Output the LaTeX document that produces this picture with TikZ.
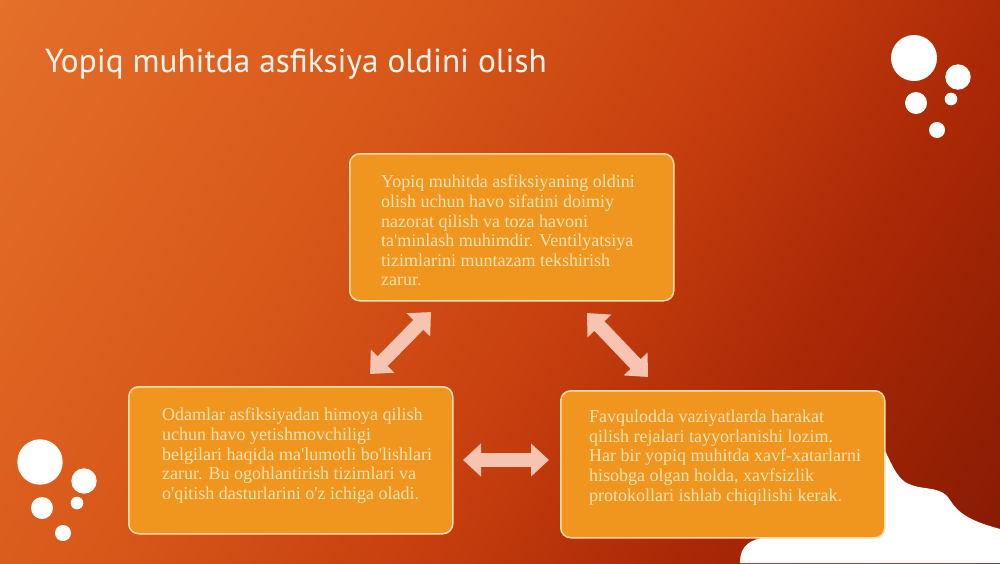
\documentclass[tikz,border=0pt]{standalone}
\usepackage{fontspec}
\setmainfont{Liberation Serif}
\newfontfamily\titlefont{PT Sans}
\usetikzlibrary{arrows.meta}
\definecolor{bgA}{RGB}{236,128,52}
\definecolor{bgB}{RGB}{216,88,26}
\definecolor{bgC}{RGB}{198,62,14}
\definecolor{bgD}{RGB}{170,40,6}
\definecolor{bgE}{RGB}{100,14,0}
\definecolor{boxfill}{RGB}{240,150,30}
\definecolor{boxline}{RGB}{250,222,175}
\definecolor{txt}{RGB}{251,228,184}
\definecolor{arrowc}{RGB}{246,196,176}
\definecolor{titlec}{RGB}{252,244,236}
\pgfdeclarehorizontalshading{bgshade}{100bp}{color(0bp)=(bgA); color(38bp)=(bgB); color(55bp)=(bgC); color(68bp)=(bgD); color(100bp)=(bgE)}
\newcommand{\ap}{\textquotesingle}
\begin{document}
\begin{tikzpicture}[x=1pt,y=-1pt,
  box/.style={draw=boxline, line width=1.5pt, fill=boxfill, rounded corners=10pt,
    minimum width=324pt, minimum height=147pt, anchor=north west, inner sep=0pt},
  boxtext/.style={text=txt, font=\fontsize{18}{19.6}\selectfont, align=left,
    anchor=north west, inner sep=0pt},
  dbl/.style={draw=arrowc, line width=14pt,
    {Triangle[length=18pt,width=32pt]}-{Triangle[length=18pt,width=32pt]}},
  dot/.style={fill=white, draw=none}
]
\useasboundingbox (0,0) rectangle (1000,563);
\shade[shading=bgshade, shading angle=-32] (0,0) rectangle (1000,563);
% white blob bottom right
\fill[white] (740,563) .. controls (740,545) and (750,538) .. (775,536) -- (870,440)
  .. controls (884,432) and (888,470) .. (905,482)
  .. controls (922,492) and (940,484) .. (950,500)
  .. controls (960,516) and (975,522) .. (1000,529) -- (1000,563) -- cycle;
% circles top right
\fill[dot] (914,58) circle (23);
\fill[dot] (958,77) circle (12.7);
\fill[dot] (916,103) circle (11);
\fill[dot] (951,99) circle (6.3);
\fill[dot] (937,130) circle (8);
% circles bottom left
\fill[dot] (40,462) circle (22.7);
\fill[dot] (84,481) circle (12.7);
\fill[dot] (42,508) circle (11);
\fill[dot] (77,503) circle (6.3);
\fill[dot] (63,533) circle (8);
% title
\node[anchor=base west, inner sep=0pt, text=titlec, font=\titlefont\fontsize{33.3}{38}\selectfont] (title) at (45,72) {Yopiq muhitda asfiksiya oldini olish};
% boxes
\node[box] (top) at (349,153) {};
\node[box] (left) at (128,386) {};
\node[box] (right) at (560,390) {};
\node[boxtext] (toptxt) at (381,175) {Yopiq muhitda asfiksiyaning oldini\\olish uchun havo sifatini doimiy\\nazorat qilish va toza havoni\\ta\ap minlash muhimdir. Ventilyatsiya\\tizimlarini muntazam tekshirish\\zarur.};
\node[boxtext] (lefttxt) at (162,408) {Odamlar asfiksiyadan himoya qilish\\uchun havo yetishmovchiligi\\belgilari haqida ma\ap lumotli bo\ap lishlari\\zarur. Bu ogohlantirish tizimlari va\\o\ap qitish dasturlarini o\ap z ichiga oladi.};
\node[boxtext] (righttxt) at (589,410) {Favqulodda vaziyatlarda harakat\\qilish rejalari tayyorlanishi lozim.\\Har bir yopiq muhitda xavf-xatarlarni\\hisobga olgan holda, xavfsizlik\\protokollari ishlab chiqilishi kerak.};
% arrows
\coordinate (a1s) at (370,374);
\coordinate (a1e) at (431,312);
\coordinate (a2s) at (587,313);
\coordinate (a2e) at (648,377);
\coordinate (a3s) at (463,460);
\coordinate (a3e) at (549,460);
\draw[dbl] (a1s) -- (a1e);
\draw[dbl] (a2s) -- (a2e);
\draw[dbl] (a3s) -- (a3e);
\end{tikzpicture}
\end{document}
